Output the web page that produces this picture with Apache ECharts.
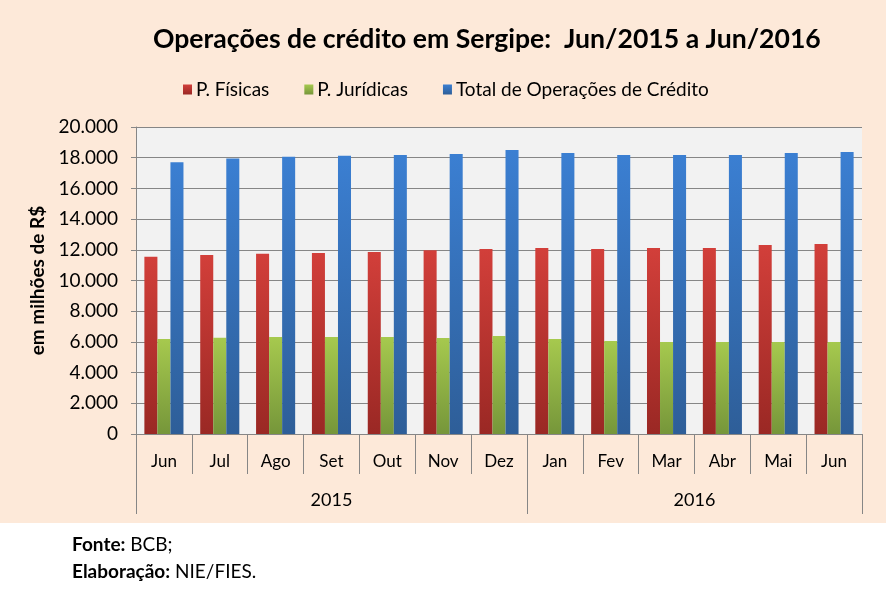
<!DOCTYPE html>
<html>
<head>
<meta charset="utf-8">
<script src="https://cdn.jsdelivr.net/npm/echarts@6/dist/echarts.min.js"></script>
<style>
  html, body { margin: 0; padding: 0; background: #fff; }
  #chart { width: 886px; height: 593px; }
</style>
</head>
<body>
<div id="chart"></div>
<script>
// values (em milhões de R$)
const months = ["Jun", "Jul", "Ago", "Set", "Out", "Nov", "Dez", "Jan", "Fev", "Mar", "Abr", "Mai", "Jun"];
const years = ["2015", "2016"];
const monthsPerYear = [7, 6];

const pFisicas = [11550, 11660, 11750, 11790, 11860, 11970, 12050, 12120, 12050, 12120, 12120, 12310, 12380];
const pJuridicas = [6190, 6270, 6320, 6320, 6320, 6250, 6380, 6190, 6060, 6000, 6000, 6000, 5990];
const totalCredito = [17700, 17940, 18070, 18130, 18180, 18240, 18500, 18310, 18180, 18180, 18180, 18310, 18370];

const FONT = "Lato";

// year axis: half-month points, so a year label can sit in the middle of its months
const yearPoints = [];
const yearTicks = [0];
let pos = 0;
for (let i = 0; i < months.length * 2 + 1; i++) yearPoints.push("");
years.forEach((y, i) => {
  const start = pos;
  pos += monthsPerYear[i] * 2;
  yearPoints[(start + pos) / 2] = y;
  yearTicks.push(pos);
});

function grad(top, bottom) {
  return new echarts.graphic.LinearGradient(0, 0, 0, 1, [
    { offset: 0, color: top },
    { offset: 1, color: bottom },
  ]);
}

function fmt(v) {
  return String(v).replace(/\B(?=(\d{3})+(?!\d))/g, ".");
}

const chart = echarts.init(document.getElementById("chart"));

const option = {
  backgroundColor: "#ffffff",
  animation: false,
  textStyle: { fontFamily: FONT },
  graphic: [
    {
      type: "rect",
      z: -10,
      silent: true,
      shape: { x: 0, y: 0, width: 886, height: 523 },
      style: { fill: "#FDE9D9" },
    },
    {
      type: "rect",
      z: -5,
      silent: true,
      shape: { x: 136, y: 127, width: 726, height: 307 },
      style: { fill: "#F2F2F2" },
    },
    {
      type: "text",
      left: 72,
      top: 531,
      style: {
        text: "{b|Fonte:} BCB;\n{b|Elaboração:} NIE/FIES.",
        fontFamily: FONT,
        fontSize: 19,
        lineHeight: 27,
        fill: "#000",
        rich: { b: { fontWeight: "bold", fontFamily: FONT, fontSize: 19 } },
      },
    },
  ],
  title: {
    text: "Operações de crédito em Sergipe:  Jun/2015 a Jun/2016",
    left: 148,
    top: 21,
    textStyle: { fontFamily: FONT, fontWeight: "bold", fontSize: 26.6, color: "#000" },
  },
  legend: {
    left: 178,
    top: 75,
    icon: "rect",
    itemWidth: 9,
    itemHeight: 10,
    itemGap: 35,
    textStyle: { fontFamily: FONT, fontSize: 19, color: "#000", padding: [0, 0, 0, -1] },
    data: ["P. Físicas", "P. Jurídicas", "Total de Operações de Crédito"],
  },
  grid: { left: 136, right: 24, top: 127, bottom: 159 },
  xAxis: [
    {
      type: "category",
      data: months,
      axisLine: { lineStyle: { color: "#868686" } },
      axisTick: { show: true, interval: 0, length: 40, lineStyle: { color: "#868686" } },
      axisLabel: { interval: 0, margin: 19, fontFamily: FONT, fontSize: 17, color: "#000" },
    },
    {
      type: "category",
      data: yearPoints,
      boundaryGap: false,
      position: "bottom",
      axisLine: { show: false },
      axisTick: {
        show: true,
        length: 80,
        interval: (i) => yearTicks.includes(i),
        lineStyle: { color: "#868686" },
      },
      axisLabel: {
        interval: (i, v) => v !== "",
        margin: 57,
        fontFamily: FONT,
        fontSize: 18,
        color: "#000",
      },
    },
  ],
  yAxis: {
    type: "value",
    min: 0,
    max: 20000,
    interval: 2000,
    name: "em milhões de R$",
    nameLocation: "middle",
    nameGap: 86,
    nameTextStyle: { fontFamily: FONT, fontWeight: "bold", fontSize: 19, color: "#000" },
    axisLine: { show: true, lineStyle: { color: "#868686" } },
    axisTick: { show: true, length: 5, lineStyle: { color: "#868686" } },
    axisLabel: { formatter: fmt, margin: 18, fontFamily: FONT, fontSize: 19, color: "#000" },
    splitLine: { lineStyle: { color: "#868686", width: 1 } },
  },
  series: [
    {
      name: "P. Físicas",
      type: "bar",
      data: pFisicas,
      barGap: "0%",
      barCategoryGap: "30%",
      itemStyle: { color: grad("#D23F3A", "#9A2824") },
    },
    {
      name: "P. Jurídicas",
      type: "bar",
      data: pJuridicas,
      itemStyle: { color: grad("#A6C94E", "#76963A") },
    },
    {
      name: "Total de Operações de Crédito",
      type: "bar",
      data: totalCredito,
      itemStyle: { color: grad("#3B7FD2", "#2E5E98") },
    },
  ],
};

// legend swatches use flat colours
option.color = ["#C0392F", "#8DB241", "#3670BE"];
chart.setOption(option);
</script>
</body>
</html>
